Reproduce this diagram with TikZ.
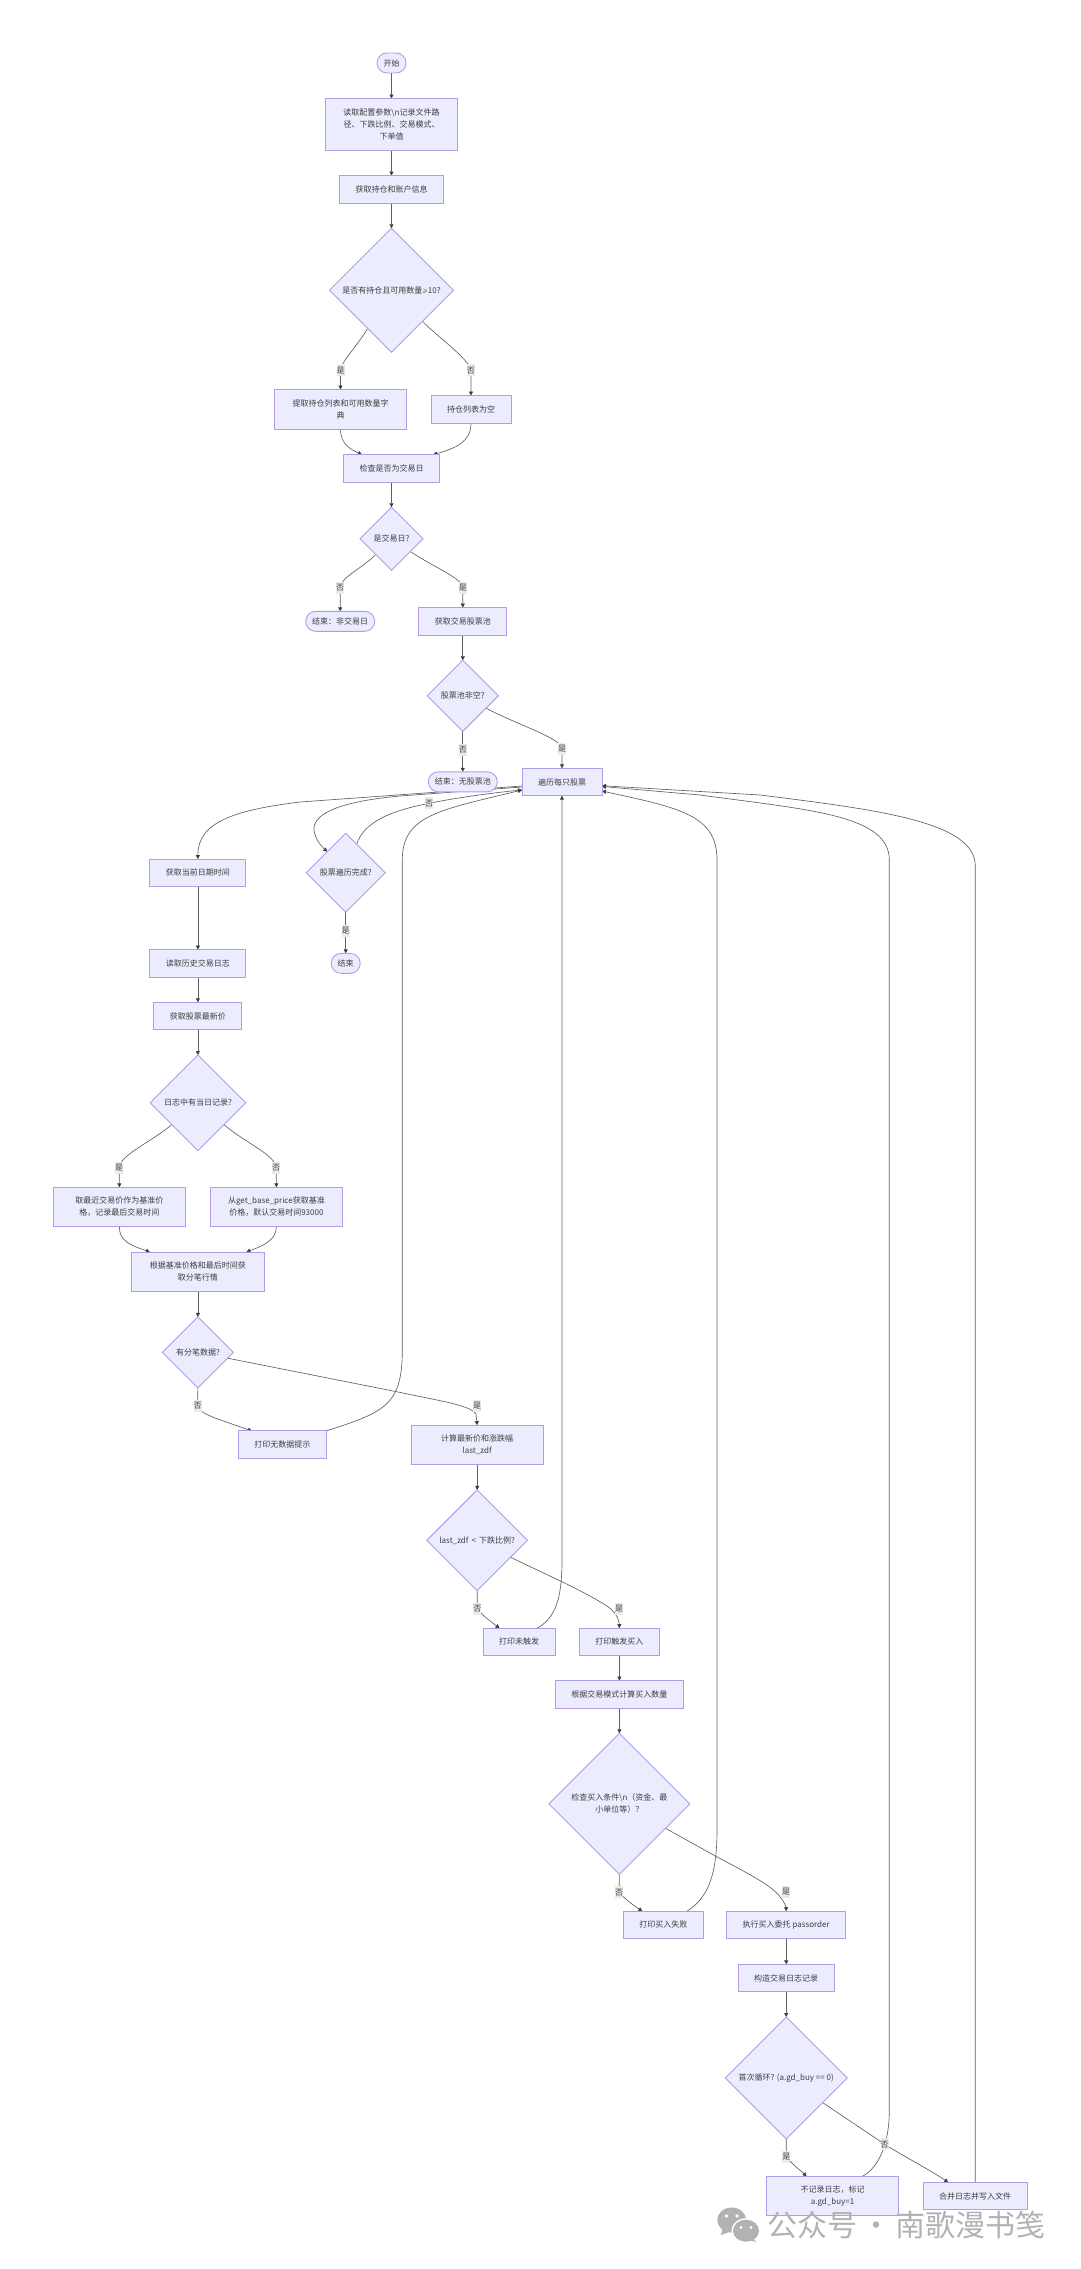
\documentclass[tikz,border=0pt]{standalone}
\usepackage{fontspec}
\setmainfont{Noto Sans CJK SC}
\usepackage{xcolor}
\usetikzlibrary{arrows.meta,positioning,shapes.geometric,backgrounds}
\definecolor{boxfill}{RGB}{236,236,255}
\definecolor{boxedge}{RGB}{176,156,232}
\definecolor{edge}{RGB}{95,95,95}
\definecolor{tipdark}{RGB}{60,60,60}
\definecolor{labelfill}{RGB}{234,234,234}
\definecolor{inktext}{RGB}{62,62,62}
\definecolor{wmgray}{RGB}{178,178,178}
\tikzset{
  base/.style={draw=boxedge,fill=boxfill,line width=0.9pt,outer sep=0pt,align=center,
    text=inktext,font=\fontsize{8}{12}\selectfont},
  box/.style={base,inner xsep=16pt,inner ysep=0pt,minimum height=27.4pt},
  box2/.style={box,minimum width=132.4pt,minimum height=39.4pt},
  box3/.style={box,minimum width=132.4pt,minimum height=51.4pt},
  term/.style={base,rounded corners=10pt,inner xsep=6.5pt,inner ysep=0pt,minimum height=20pt},
  test/.style={base,diamond,aspect=1,inner sep=0pt},
  flow/.style={-{Triangle[length=4pt,width=4pt,color=tipdark]},line width=0.65pt,draw=edge},
  elabel/.style={fill=labelfill,text=inktext,inner sep=0pt,minimum width=8pt,minimum height=12pt,
    font=\fontsize{8}{12}\selectfont},
}

\begin{document}
\begin{tikzpicture}[x=1pt,y=-1pt]
  \useasboundingbox (0,0) rectangle (1080,2269);

  \node[term] (start) at (391.5,63) {开始};
  \node[box3,below=25.6pt of start] (readcfg) {读取配置参数\textbackslash n记录文件路\\径、下跌比例、交易模式、\\下单值};
  \node[box,below=25.6pt of readcfg] (getacc) {获取持仓和账户信息};
  \node[test,minimum size=124pt,below=25.3pt of getacc] (hasstock) {是否有持仓且可用数量{\fontsize{5.5}{12}\selectfont ≥}10?};
  \node[box2,below=37.3pt of hasstock,xshift=-51pt] (stocklist) {提取持仓列表和可用数量字\\典};
  \node[box,below=43.3pt of hasstock,xshift=79.5pt] (emptylist) {持仓列表为空};
  \node[box,below=25.6pt of stocklist,xshift=51pt] (checkday) {检查是否为交易日};
  \node[test,minimum size=63pt,below=25.3pt of checkday] (isday) {是交易日?};
  \node[term,below=41pt of isday,xshift=-51.3pt] (endnotday) {结束：非交易日};
  \node[box,below=37.3pt of isday,xshift=71.3pt] (getpool) {获取交易股票池};
  \node[test,minimum size=71pt,below=25.3pt of getpool] (poolok) {股票池非空?};
  \node[term,below=40.5pt of poolok] (endnopool) {结束：无股票池};
  \node[box,below=37pt of poolok,xshift=99.2pt] (loop) {遍历每只股票};
  \node[test,minimum size=79pt,below=37.6pt of loop,xshift=-216.3pt] (loopdone) {股票遍历完成?};
  \node[term,below=41pt of loopdone] (endall) {结束};

  \node[box,left=60.3pt of loopdone] (getnow) {获取当前日期时间};
  \node[box,below=63.1pt of getnow] (readlog) {读取历史交易日志};
  \node[box,below=25.3pt of readlog] (getprice) {获取股票最新价};
  \node[test,minimum size=95.6pt,below=25.3pt of getprice] (haslog) {日志中有当日记录?};
  \node[box2,below=36.7pt of haslog,xshift=-78.5pt] (lastprice) {取最近交易价作为基准价\\格，记录最后交易时间};
  \node[box2,below=36.7pt of haslog,xshift=78.5pt] (baseprice) {从get\_base\_price获取基准\\价格，默认交易时间93000};
  \node[box2,below=25.3pt of lastprice,xshift=78.5pt] (gettick) {根据基准价格和最后时间获\\取分笔行情};
  \node[test,minimum size=71pt,below=25.5pt of gettick] (hastick) {有分笔数据?};
  \node[box,below=43pt of hastick,xshift=84.5pt] (nodata) {打印无数据提示};
  \node[box2,below=37.3pt of hastick,xshift=279.3pt] (calczdf) {计算最新价和涨跌幅\\last\_zdf};
  \node[test,minimum size=100.7pt,below=25.3pt of calczdf] (zdflow) {last\_zdf \,<\, 下跌比例?};
  \node[box,below=37.6pt of zdflow,xshift=42pt] (notrig) {打印未触发};
  \node[box,below=37.6pt of zdflow,xshift=142.2pt] (trigbuy) {打印触发买入};
  \node[box,below=25pt of trigbuy] (calcqty) {根据交易模式计算买入数量};
  \node[test,minimum size=141pt,below=25.3pt of calcqty] (canbuy) {检查买入条件\textbackslash n（资金、最\\小单位等）？};
  \node[box,below=36.9pt of canbuy,xshift=44pt] (buyfail) {打印买入失败};
  \node[box,below=36.9pt of canbuy,xshift=166.8pt] (passord) {执行买入委托 passorder};
  \node[box,below=25.7pt of passord] (buildlog) {构造交易日志记录};
  \node[test,minimum size=122pt,below=25.3pt of buildlog] (firstrun) {首次循环? (a.gd\_buy == 0)};
  \node[box2,below=37.3pt of firstrun,xshift=46.3pt] (skiplog) {不记录日志，标记\\a.gd\_buy=1};
  \node[box,below=43.3pt of firstrun,xshift=189pt] (mergelog) {合并日志并写入文件};

  \begin{scope}[on background layer]
    \draw[flow] (start) -- (readcfg);
    \draw[flow] (readcfg) -- (getacc);
    \draw[flow] (getacc) -- (hasstock);
    \draw[flow] (hasstock.-122) .. controls (355,349) and (341,362) .. (340.5,370.3) node[elabel] {是} -- (stocklist.north);
    \draw[flow] (hasstock.-45) .. controls (440,339) and (468,358) .. (470.9,370.3) node[elabel] {否} -- (emptylist.north);
    \draw[flow] (stocklist.south) .. controls (340.5,444) and (350,449) .. ([xshift=-29.5pt]checkday.north);
    \draw[flow] (emptylist.south) .. controls (471,442) and (456,448) .. ([xshift=41.8pt]checkday.north);
    \draw[flow] (checkday) -- (isday);
    \draw[flow] (isday.-135) .. controls (360,570) and (341,577) .. (340.2,587.7) node[elabel] {否} -- (endnotday.north);
    \draw[flow] (isday.-34) .. controls (435,568) and (462,578) .. (462.8,587.7) node[elabel] {是} -- (getpool.north);
    \draw[flow] (getpool) -- (poolok);
    \draw[flow] (poolok) -- node[elabel,pos=0.45] {否} (endnopool);
    \draw[flow] (poolok.-28) .. controls (520,726) and (561,738) .. (562,748.7) node[elabel] {是} -- (loop.north);
    \draw[flow] ([yshift=-4pt]loop.west) -- (300,802) .. controls (235,810) and (197.5,822) .. (getnow.north);
    \draw[flow] ([yshift=-5pt]loop.west) -- (400,796) .. controls (335,802) and (313,815) .. (314,830) .. controls (315,838) and (320,845) .. (loopdone.131);
    \draw[flow] (loopdone.69) .. controls (364,822) and (390,811) .. (429,803.3) node[elabel] {否} .. controls (460,797) and (500,792) .. ([yshift=-8pt]loop.west);
    \draw[flow] (loopdone) -- node[elabel,pos=0.45] {是} (endall);
    \draw[flow] (getnow) -- (readlog);
    \draw[flow] (readlog) -- (getprice);
    \draw[flow] (getprice) -- (haslog);
    \draw[flow] (haslog.-140) .. controls (148,1144) and (120,1155) .. (119.2,1168) node[elabel] {是} -- (lastprice.north);
    \draw[flow] (haslog.-40) .. controls (247,1144) and (275.7,1155) .. (276.2,1168) node[elabel] {否} -- (baseprice.north);
    \draw[flow] (lastprice.south) .. controls (119.2,1241) and (130,1245) .. ([xshift=-48pt]gettick.north);
    \draw[flow] (baseprice.south) .. controls (276.2,1241) and (262,1246) .. ([xshift=48.5pt]gettick.north);
    \draw[flow] (gettick) -- (hastick);
    \draw[flow] (hastick.south) -- (197.5,1406) node[elabel] {否} .. controls (200,1414) and (215,1418) .. ([xshift=-30.5pt]nodata.north);
    \draw[flow] (hastick.-11) -- (396.7,1391.7) .. controls (440,1401) and (470,1405) .. (476,1414) node[elabel,xshift=1pt,yshift=8pt] {是} -- (calczdf.north);
    \draw[flow] (nodata.north east) .. controls (385,1412) and (402.3,1405) .. (402.3,1350) -- (402.3,860) .. controls (402.3,815) and (440,810) .. ([yshift=-8pt]loop.west);
    \draw[flow] (calczdf) -- (zdflow);
    \draw[flow] (zdflow.south) -- (477.3,1608.7) node[elabel] {否} .. controls (482,1615) and (490,1621) .. ([xshift=-19.7pt]notrig.north);
    \draw[flow] (zdflow.-27) .. controls (545,1574) and (575,1587) .. (600,1601.7) .. controls (605,1604.7) and (609,1607) .. (612,1610) node[elabel,xshift=7pt,yshift=1pt] {是} .. controls (617,1615) and (619,1620) .. (trigbuy.north);
    \draw[flow] ([xshift=18pt]notrig.north) .. controls (555,1618) and (562,1600) .. (562,1560) -- (loop.south);
    \draw[flow] (trigbuy) -- (calcqty);
    \draw[flow] (calcqty) -- (canbuy);
    \draw[flow] (canbuy.south) -- (619.2,1892.3) node[elabel] {否} .. controls (625,1899) and (633,1905) .. ([xshift=-21pt]buyfail.north);
    \draw[flow] (canbuy.-28) -- (716.7,1856.7) .. controls (745,1872) and (772,1885) .. (781,1898) node[elabel,xshift=5pt,yshift=6pt] {是} .. controls (784,1902) and (786,1906) .. (passord.north);
    \draw[flow] ([xshift=23.5pt]buyfail.north) .. controls (708,1898) and (717,1875) .. (717,1830) -- (717,860) .. controls (717,815) and (680,808) .. ([yshift=-9pt]loop.east);
    \draw[flow] (passord) -- (buildlog);
    \draw[flow] (buildlog) -- (firstrun);
    \draw[flow] (firstrun.south) -- (786.3,2157) node[elabel] {是} .. controls (792,2164) and (800,2170) .. ([xshift=-25.8pt]skiplog.north);
    \draw[flow] ([xshift=29.8pt]skiplog.north) .. controls (875,2170) and (889.3,2150) .. (889.3,2110) -- (889.3,860) .. controls (889.3,815) and (810,810) .. (700,795) -- ([yshift=-4.5pt]loop.east);
    \draw[flow] (firstrun.-34) -- (884.7,2144.3) node[elabel] {否} .. controls (905,2157) and (930,2170) .. ([xshift=-26.9pt]mergelog.north);
    \draw[flow] (mergelog.north) -- (975.3,866) .. controls (975.3,822) and (880,810) .. (760,795) -- ([yshift=-3.7pt]loop.east);
  \end{scope}

  \fill[wmgray] (731.7,2220) ellipse [x radius=14.5pt,y radius=12.5pt];
  \fill[wmgray] (722.5,2229) -- (721,2235) -- (729,2232) -- cycle;
  \fill[white] (746,2230.7) ellipse [x radius=14.5pt,y radius=12.5pt];
  \fill[wmgray] (746,2230.7) ellipse [x radius=13pt,y radius=11pt];
  \fill[wmgray] (753,2238) -- (756,2242) -- (749,2240) -- cycle;
  \fill[white] (726.5,2216) circle [radius=1.8pt] (737,2216) circle [radius=1.8pt];
  \fill[white] (741,2227.5) circle [radius=1.6pt] (751,2227.5) circle [radius=1.6pt];
  \node[anchor=west,text=wmgray,inner sep=0pt,font=\fontsize{30}{36}\selectfont] (wmark) at (767,2225) {公众号\hspace{4pt}·\hspace{4pt}南歌漫书笺};
\end{tikzpicture}
\end{document}
